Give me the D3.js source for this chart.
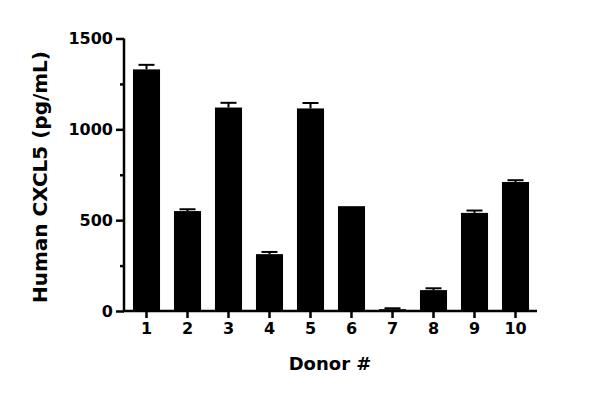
<!DOCTYPE html>
<html>
<head>
<meta charset="utf-8">
<script src="https://cdn.jsdelivr.net/npm/d3@7"></script>
<style>
  body { margin: 0; background: #fff; }
  text { font-family: "DejaVu Sans", sans-serif; font-weight: bold; fill: #000; }
</style>
</head>
<body>
<div id="chart"></div>
<script>
// donors and measured CXCL5 (mean, upper SD)
var donors = ["1", "2", "3", "4", "5", "6", "7", "8", "9", "10"];
var means = [1330, 550, 1120, 313, 1115, 577, 10, 115, 540, 710];
var errs = [25, 10, 26, 12, 30, 0, 5, 10, 13, 10];
var yTicks = [0, 500, 1000, 1500];
var yMinor = [250, 750, 1250];

var width = 600;
var height = 397;

var svg = d3.select('#chart')
    .append('svg')
    .attr('width', width)
    .attr('height', height);

var x = d3.scaleBand()
    .domain(donors)
    .range([126, 536])
    .paddingInner(0.34)
    .paddingOuter(0.17);

var y = d3.scaleLinear()
    .domain([0, 1500])
    .range([311, 38.5]);

var data = donors.map(function (d, i) {
    return { donor: d, value: means[i], err: errs[i] };
});

// bars
svg.selectAll('rect.bar')
    .data(data)
    .enter()
    .append('rect')
    .attr('class', 'bar')
    .attr('x', function (d) { return x(d.donor); })
    .attr('y', function (d) { return y(d.value); })
    .attr('width', x.bandwidth())
    .attr('height', function (d) { return y(0) - y(d.value); })
    .attr('fill', '#000');

// error bars (upper only)
var eb = svg.selectAll('g.err')
    .data(data.filter(function (d) { return d.err > 0; }))
    .enter()
    .append('g')
    .attr('class', 'err')
    .attr('stroke', '#000')
    .attr('stroke-width', 2);

eb.append('line')
    .attr('x1', function (d) { return x(d.donor) + x.bandwidth() / 2; })
    .attr('x2', function (d) { return x(d.donor) + x.bandwidth() / 2; })
    .attr('y1', function (d) { return y(d.value); })
    .attr('y2', function (d) { return y(d.value + d.err); });

eb.append('line')
    .attr('x1', function (d) { return x(d.donor) + x.bandwidth() / 2 - 8; })
    .attr('x2', function (d) { return x(d.donor) + x.bandwidth() / 2 + 8; })
    .attr('y1', function (d) { return y(d.value + d.err); })
    .attr('y2', function (d) { return y(d.value + d.err); });

// y axis
var yAxis = svg.append('g')
    .attr('transform', 'translate(124,0)')
    .call(d3.axisLeft(y).tickValues(yTicks).tickSize(8).tickPadding(3).tickFormat(d3.format('d')));

svg.append('g')
    .attr('transform', 'translate(124,0)')
    .call(d3.axisLeft(y).tickValues(yMinor).tickSize(4).tickFormat(''))
    .select('.domain').remove();

// x axis
var xAxis = svg.append('g')
    .attr('transform', 'translate(0,311)')
    .call(d3.axisBottom(x).tickSize(7).tickPadding(5));

xAxis.select('.domain').attr('d', 'M123,0H537');
yAxis.select('.domain').attr('d', 'M0,38.5V312');

svg.selectAll('.domain').attr('stroke', '#000').attr('stroke-width', 2.5);
svg.selectAll('.tick line').attr('stroke', '#000').attr('stroke-width', 2.5);
svg.selectAll('.tick text').style('font-size', '16px').style('font-family', '"DejaVu Sans", sans-serif').style('font-weight', 'bold');

// titles
svg.append('text')
    .attr('transform', 'translate(47,177) rotate(-90)')
    .attr('text-anchor', 'middle')
    .style('font-size', '20px')
    .text('Human CXCL5 (pg/mL)');

svg.append('text')
    .attr('x', 330)
    .attr('y', 370)
    .attr('text-anchor', 'middle')
    .style('font-size', '18px')
    .text('Donor #');
</script>
</body>
</html>
